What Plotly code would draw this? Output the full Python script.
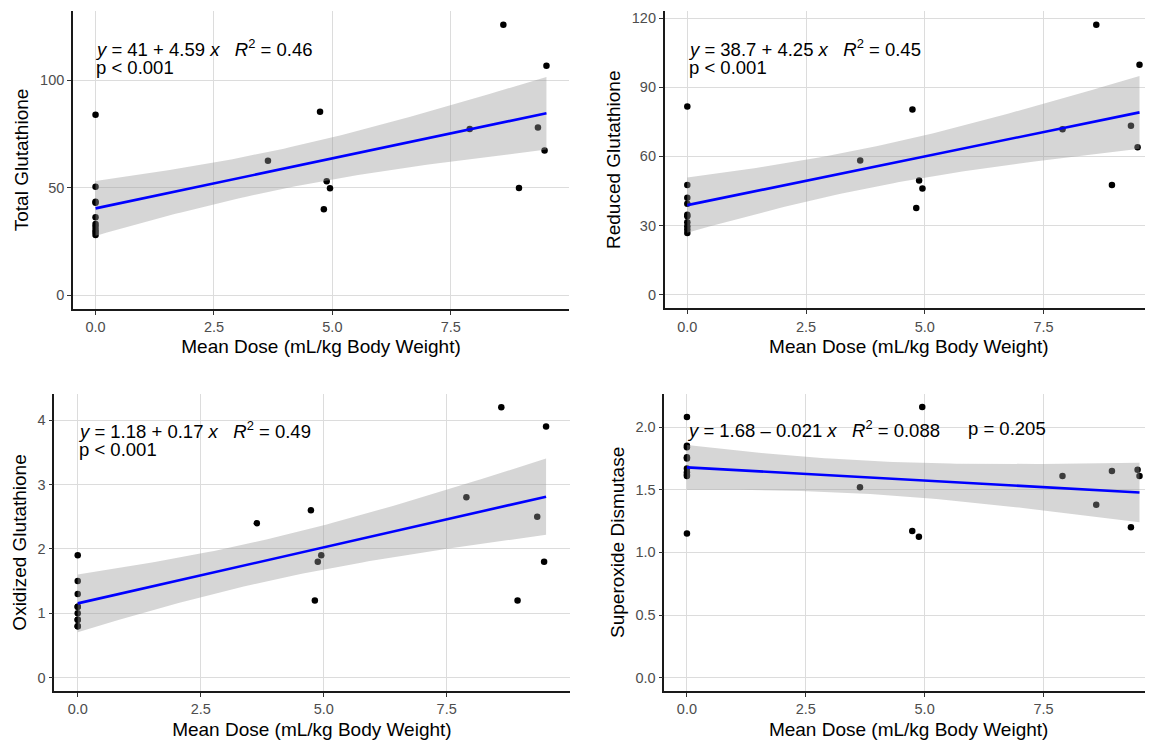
import numpy as np
import plotly.graph_objects as go

# ---------------- data ----------------
dose = [0, 0, 0, 0, 0, 0, 0, 0, 0, 0,
        3.64, 4.74, 4.82, 4.88, 4.95, 7.90, 8.61, 8.94, 9.34, 9.48, 9.52]

total_gsh = [84.0, 50.5, 43.5, 43.0, 36.3, 33.2, 31.9, 30.4, 29.3, 28.0,
             62.6, 85.4, 40.0, 53.0, 49.8, 77.3, 125.9, 49.9, 78.1, 67.4, 106.8]

reduced_gsh = [81.6, 47.6, 42.1, 39.5, 34.7, 34.0, 31.4, 29.7, 28.3, 26.8,
               58.2, 80.3, 37.6, 49.5, 46.1, 71.8, 117.1, 47.6, 73.3, 64.0, 99.7]

oxidized_gsh = [1.9, 1.5, 1.3, 1.1, 1.1, 1.0, 0.9, 0.9, 0.8, 0.8,
                2.4, 2.6, 1.2, 1.8, 1.9, 2.8, 4.2, 1.2, 2.5, 1.8, 3.9]

sod = [2.08, 1.85, 1.84, 1.76, 1.75, 1.67, 1.64, 1.62, 1.61, 1.15,
       1.52, 1.17, None, 1.125, 2.16, 1.61, 1.38, 1.65, 1.20, 1.66, 1.61]

y_titles = ["Total Glutathione", "Reduced Glutathione",
            "Oxidized Glutathione", "Superoxide Dismutase"]
y_ticks = [[0, 50, 100], [0, 30, 60, 90, 120], [0, 1, 2, 3, 4],
           [0.0, 0.5, 1.0, 1.5, 2.0]]
y_ticktext = [["0", "50", "100"], ["0", "30", "60", "90", "120"],
              ["0", "1", "2", "3", "4"], ["0.0", "0.5", "1.0", "1.5", "2.0"]]
x_ticks = [0.0, 2.5, 5.0, 7.5]
x_ticktext = ["0.0", "2.5", "5.0", "7.5"]
x_title = "Mean Dose (mL/kg Body Weight)"

eq_texts = [
    "<i>y</i> = 41 + 4.59 <i>x</i>   <i>R</i><sup>2</sup> = 0.46",
    "<i>y</i> = 38.7 + 4.25 <i>x</i>   <i>R</i><sup>2</sup> = 0.45",
    "<i>y</i> = 1.18 + 0.17 <i>x</i>   <i>R</i><sup>2</sup> = 0.49",
    "<i>y</i> = 1.68 \u2013 0.021 <i>x</i>   <i>R</i><sup>2</sup> = 0.088",
]
p_texts = ["p < 0.001", "p < 0.001", "p < 0.001", "p = 0.205"]

series = [total_gsh, reduced_gsh, oxidized_gsh, sod]

# ---------------- layout geometry ----------------
OFF = 8  # page body margin
W, H = 1153 - OFF, 743 - OFF
def px_x(p): return (p - OFF) / W
def px_y(p): return 1 - (p - OFF) / H

domains = [
    ((73, 569), (11.1, 308.8)),
    ((664.7, 1153), (11.2, 308.3)),
    ((54.3, 569.5), (393.7, 691.2)),
    ((664.3, 1153), (393.5, 691.2)),
]


def t_quant(df):
    z = 1.959964
    return (z + (z**3 + z) / (4 * df)
            + (5 * z**5 + 16 * z**3 + 3 * z) / (96 * df**2)
            + (3 * z**7 + 19 * z**5 + 17 * z**3 - 15 * z) / (384 * df**3))


FONT = "Liberation Sans, Arial"
fig = go.Figure()
layout = {}
annotations = []

for i, ys in enumerate(series):
    xa = "x" if i == 0 else f"x{i+1}"
    ya = "y" if i == 0 else f"y{i+1}"
    x = np.array([d for d, v in zip(dose, ys) if v is not None], float)
    y = np.array([v for v in ys if v is not None], float)

    # points
    fig.add_trace(go.Scatter(x=x, y=y, mode="markers", xaxis=xa, yaxis=ya,
                             marker=dict(color="black", size=6.5),
                             showlegend=False, hoverinfo="x+y"))
    # linear fit + 95% CI
    n = len(x)
    b, a = np.polyfit(x, y, 1)
    res = y - (a + b * x)
    s = np.sqrt(np.sum(res**2) / (n - 2))
    xm = x.mean()
    sxx = np.sum((x - xm) ** 2)
    xs = np.linspace(x.min(), x.max(), 80)
    yh = a + b * xs
    se = s * np.sqrt(1 / n + (xs - xm) ** 2 / sxx)
    t = t_quant(n - 2)
    lo, hi = yh - t * se, yh + t * se
    fig.add_trace(go.Scatter(x=np.concatenate([xs, xs[::-1]]),
                             y=np.concatenate([hi, lo[::-1]]),
                             fill="toself", fillcolor="rgba(153,153,153,0.4)",
                             line=dict(width=0), mode="lines",
                             xaxis=xa, yaxis=ya, showlegend=False,
                             hoverinfo="skip"))
    fig.add_trace(go.Scatter(x=xs, y=yh, mode="lines", xaxis=xa, yaxis=ya,
                             line=dict(color="#0000FF", width=2.6),
                             showlegend=False, hoverinfo="skip"))

    # axes
    (x0, x1), (ytop, ybot) = domains[i]
    ymax = float(np.max(y))
    ymin = 0.0
    pad = 0.05 * (ymax - ymin)
    xmax_data = 9.52
    xpad = 0.05 * xmax_data
    if i in (1, 3):
        ppu = 47.5
        xr = [-xpad, (x1 - 687.3) / ppu]
    else:
        xr = [-xpad, xmax_data + xpad]

    axis_common = dict(showline=True, linecolor="#1a1a1a", linewidth=1.6,
                       ticks="outside", ticklen=4, tickcolor="#333333",
                       tickwidth=1, showgrid=True, gridcolor="#DCDCDC",
                       gridwidth=1, zeroline=False,
                       tickfont=dict(family=FONT, size=14.5, color="#4D4D4D"),
                       title_font=dict(family=FONT, size=19, color="black"))
    layout["xaxis" if i == 0 else f"xaxis{i+1}"] = dict(
        axis_common, domain=[px_x(x0), px_x(x1)], range=xr,
        tickvals=x_ticks, ticktext=x_ticktext, anchor=ya,
        title=dict(text=x_title, standoff=6))
    layout["yaxis" if i == 0 else f"yaxis{i+1}"] = dict(
        axis_common, domain=[px_y(ybot), px_y(ytop)],
        range=[ymin - pad, ymax + pad], tickvals=y_ticks[i],
        ticktext=y_ticktext[i], anchor=xa,
        title=dict(text=y_titles[i], standoff=6))

    # equation annotations
    tx = {0: 93, 1: 686, 2: 76, 3: 685}[i]
    ty = {0: 48, 1: 48, 2: 430, 3: 429}[i]
    afont = dict(family=FONT, size=18.5, color="black")
    annotations.append(dict(text=eq_texts[i], x=px_x(tx), y=px_y(ty),
                            xref="paper", yref="paper", xanchor="left",
                            yanchor="middle", showarrow=False, font=afont))
    if i < 3:
        annotations.append(dict(text=p_texts[i], x=px_x(tx + 1),
                                y=px_y(ty + 19), xref="paper", yref="paper",
                                xanchor="left", yanchor="middle",
                                showarrow=False, font=afont))
    else:
        annotations.append(dict(text=p_texts[i], x=px_x(966),
                                y=px_y(ty), xref="paper", yref="paper",
                                xanchor="left", yanchor="middle",
                                showarrow=False, font=afont))

fig.update_layout(**layout)
fig.update_layout(width=W, height=H, margin=dict(l=0, r=0, t=0, b=0),
                  plot_bgcolor="white", paper_bgcolor="white",
                  showlegend=False, annotations=annotations,
                  font=dict(family=FONT))

fig.write_html("out.html")
